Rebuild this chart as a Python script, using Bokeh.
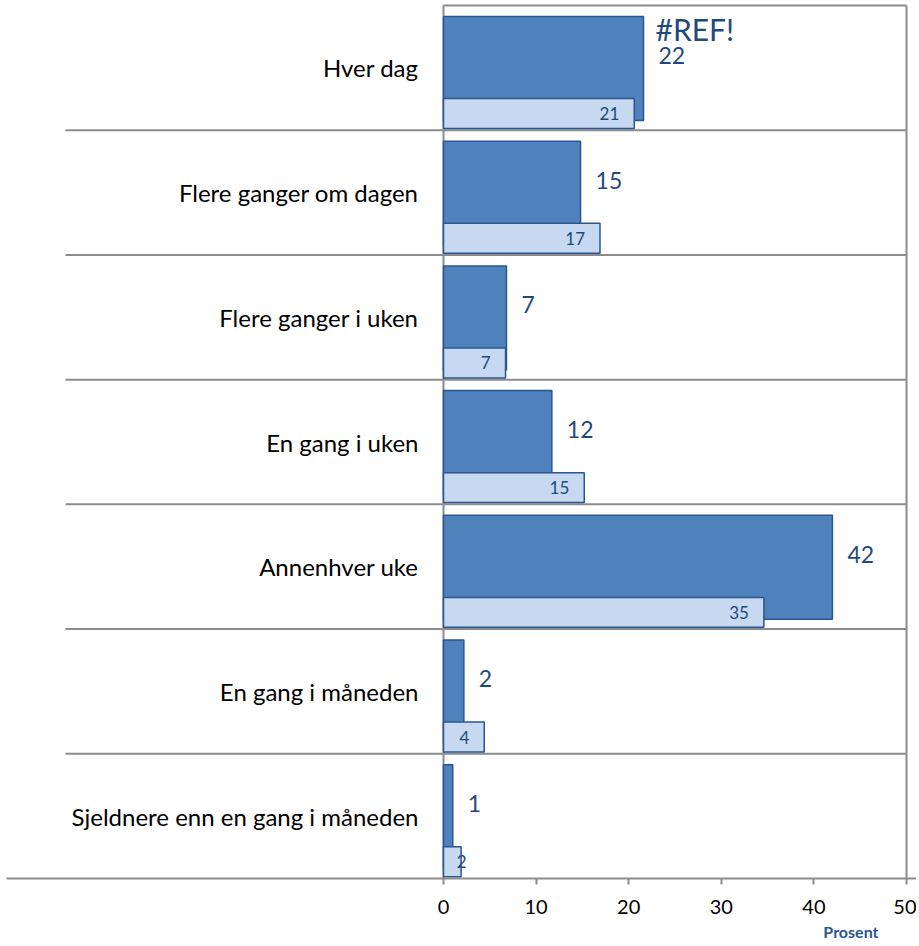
from bokeh.plotting import figure
from bokeh.models import Range1d, FixedTicker, ColumnDataSource, Title
from bokeh.core.properties import value
from bokeh.embed import file_html
from bokeh.resources import INLINE

# ---- data ----
categories = ["Hver dag", "Flere ganger om dagen", "Flere ganger i uken",
              "En gang i uken", "Annenhver uke", "En gang i måneden",
              "Sjeldnere enn en gang i måneden"]
series_dark = [21.6, 14.8, 6.8, 11.7, 42.0, 2.2, 1.0]
series_light = [20.6, 16.9, 6.7, 15.2, 34.6, 4.4, 1.9]
x_ticks = [0, 10, 20, 30, 40, 50]
error_label = "#REF!"
axis_title = "Prosent"

# ---- layout (pixels) ----
W, H = 916, 944
FRAME_LEFT, FRAME_TOP, FRAME_BOTTOM = 6, 3, 878
AX0_PX, AXMAX_PX = 443, 906
TOP_LINE_PX = 5
PPU = (AXMAX_PX - AX0_PX) / x_ticks[-1]
XMIN = (FRAME_LEFT - AX0_PX) / PPU
XMAX = (W - AX0_PX) / PPU
n = len(categories)
PPU_Y = (FRAME_BOTTOM - TOP_LINE_PX) / n
YTOP = -(TOP_LINE_PX - FRAME_TOP) / PPU_Y
SEP_LEFT = (65 - AX0_PX) / PPU

FONT = "Lato"
DARK_TXT = "#1F497D"
GRID = "#8c8c8c"

idx = list(range(n))

p = figure(width=W, height=H, output_backend="svg", toolbar_location=None,
           x_range=Range1d(XMIN, XMAX), y_range=Range1d(start=n, end=YTOP),
           y_axis_location=None, min_border_left=FRAME_LEFT, min_border_right=0,
           min_border_top=FRAME_TOP, min_border_bottom=H - FRAME_BOTTOM)
p.outline_line_color = None
p.xgrid.visible = False
p.ygrid.visible = False
p.background_fill_color = "white"
p.border_fill_color = "white"

# frame lines
p.segment(x0=[SEP_LEFT] * (n - 1), x1=[x_ticks[-1]] * (n - 1),
          y0=[i + 1 for i in range(n - 1)], y1=[i + 1 for i in range(n - 1)],
          line_color=GRID, line_width=2)
p.segment(x0=[x_ticks[0], x_ticks[0], x_ticks[-1]],
          x1=[x_ticks[-1], x_ticks[0], x_ticks[-1]],
          y0=[0, 0, 0], y1=[0, n, n], line_color=GRID, line_width=2)

# bars
dark_src = ColumnDataSource(dict(y=[i + 0.505 for i in idx], right=series_dark,
                                 lab=[str(int(round(v))) for v in series_dark],
                                 ly=[i + 0.40 for i in idx]))
light_w = [9 * len(str(int(round(v)))) for v in series_light]
light_src = ColumnDataSource(dict(y=[i + 0.866 for i in idx], right=series_light,
                                  lab=[str(int(round(v))) for v in series_light],
                                  off=[max(-15, 14 + w - v * PPU) for v, w in zip(series_light, light_w)]))

p.hbar(y="y", left=0, right="right", height=0.834, source=dark_src,
       fill_color="#4f81bd", line_color="#2a568f", line_width=1.5)
p.hbar(y="y", left=0, right="right", height=0.24, source=light_src,
       fill_color="#c6d9f0", line_color="#2a568f", line_width=1.5)

# labels
p.text(x="right", y="ly", text="lab", source=dark_src, x_offset=15,
       text_align="left", text_baseline="middle", text_font=value(FONT),
       text_font_size="23px", text_color=DARK_TXT)
p.text(x="right", y="y", text="lab", source=light_src, x_offset="off",
       text_align="right", text_baseline="middle", text_font=value(FONT),
       text_font_size="17px", text_color=DARK_TXT)
p.text(x=[series_dark[0]], y=[0.19], text=[error_label], x_offset=12,
       text_align="left", text_baseline="middle", text_font=value(FONT),
       text_font_size="30px", text_color=DARK_TXT)
p.text(x=[0] * n, y=[i + 0.5 for i in idx], text=categories, x_offset=-25,
       text_align="right", text_baseline="middle", text_font=value(FONT),
       text_font_size="24px", text_color="black")

# x axis
ax = p.xaxis[0]
ax.ticker = FixedTicker(ticks=x_ticks)
ax.axis_line_color = GRID
ax.axis_line_width = 2
ax.major_tick_line_color = GRID
ax.major_tick_line_width = 2
ax.major_tick_out = 6
ax.major_tick_in = 0
ax.minor_tick_line_color = None
ax.major_label_text_font = FONT
ax.major_label_text_font_size = "20px"
ax.major_label_text_color = "black"
ax.major_label_standoff = 15

p.add_layout(Title(text=axis_title, align="right", offset=38, standoff=6,
                   text_font=FONT, text_font_size="16px", text_font_style="bold",
                   text_color="#2b5691"), "below")

open("out.html", "w").write(file_html(p, INLINE))
